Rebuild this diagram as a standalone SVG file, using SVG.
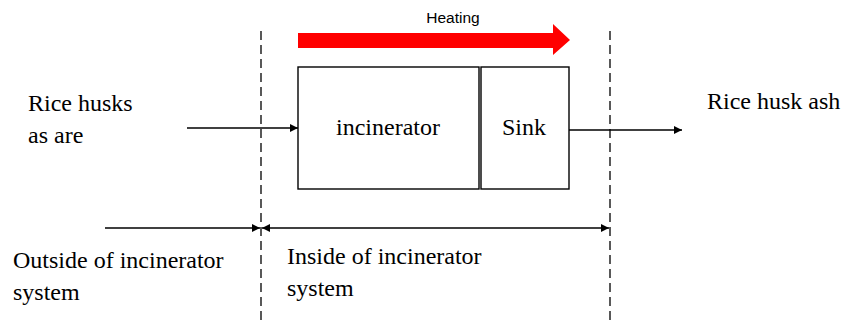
<svg xmlns="http://www.w3.org/2000/svg" width="853" height="320" viewBox="0 0 853 320">
  <defs>
    <style>
      .t { font-family: 'Liberation Serif', 'Times New Roman', 'DejaVu Serif', serif; font-size: 24px; fill: #000; }
      .h { font-family: 'Liberation Sans', Arial, sans-serif; font-size: 15.5px; fill: #000; }
      .box { fill: #fff; stroke: #000; stroke-width: 1.4; }
      .dash { stroke: #000; stroke-width: 1.3; stroke-dasharray: 9 5; fill: none; }
      .ln { stroke: #000; stroke-width: 1.3; fill: none; }
    </style>
    <marker id="ah" viewBox="0 0 10 10" refX="10" refY="5" markerWidth="8" markerHeight="8" markerUnits="userSpaceOnUse" orient="auto-start-reverse">
      <path d="M0,0 L10,5 L0,10 Z" fill="#000"/>
    </marker>
  </defs>
  <rect width="853" height="320" fill="#fff"/>

  <g id="boundaries">
    <line class="dash" x1="261" y1="31" x2="261" y2="320"/>
    <line class="dash" x1="610" y1="31" x2="610" y2="320"/>
  </g>

  <g id="heating">
    <polygon points="298,33 553,33 553,24 570,40 553,55 553,48 298,48" fill="#ff0000"/>
    <text class="h" x="453" y="22.7" text-anchor="middle">Heating</text>
  </g>

  <g id="incinerator">
    <rect class="box" x="298" y="67" width="181" height="122"/>
    <text class="t" font-family="Liberation Serif, serif" x="388" y="135" text-anchor="middle">incinerator</text>
  </g>

  <g id="sink">
    <rect class="box" x="481" y="67" width="88" height="122"/>
    <text class="t" font-family="Liberation Serif, serif" x="524" y="135" text-anchor="middle">Sink</text>
  </g>

  <g id="input">
    <text class="t" font-family="Liberation Serif, serif" x="28" y="110.7">Rice husks</text>
    <text class="t" font-family="Liberation Serif, serif" x="28" y="143">as are</text>
  </g>

  <g id="output">
    <text class="t" font-family="Liberation Serif, serif" x="707" y="109">Rice husk ash</text>
  </g>

  <g id="outside-label">
    <text class="t" font-family="Liberation Serif, serif" x="13" y="268">Outside of incinerator</text>
    <text class="t" font-family="Liberation Serif, serif" x="13" y="300">system</text>
  </g>

  <g id="inside-label">
    <text class="t" font-family="Liberation Serif, serif" x="287" y="264">Inside of incinerator</text>
    <text class="t" font-family="Liberation Serif, serif" x="287" y="296">system</text>
  </g>

  <g id="connectors">
    <line class="ln" x1="187" y1="128" x2="298" y2="128" marker-end="url(#ah)"/>
    <line class="ln" x1="569" y1="130" x2="682" y2="130" marker-end="url(#ah)"/>
    <line class="ln" x1="105" y1="228" x2="260" y2="228" marker-end="url(#ah)"/>
    <line class="ln" x1="262" y1="228" x2="609" y2="228" marker-start="url(#ah)" marker-end="url(#ah)"/>
  </g>
</svg>
